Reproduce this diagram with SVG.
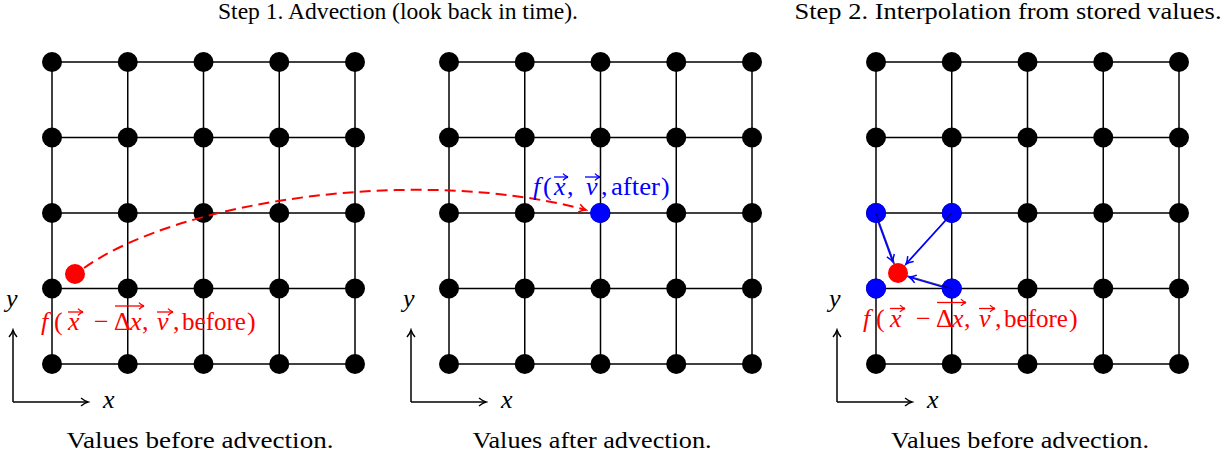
<svg xmlns="http://www.w3.org/2000/svg" width="1232" height="459" viewBox="0 0 1232 459">
<style>
.grid line{stroke:#000;stroke-width:1.5}
.node{fill:#000}
.ax{stroke:#000;stroke-width:1.5;fill:none}
.vec{stroke-width:1.3;fill:none}
</style>
<defs>
<marker id="ahk" markerWidth="12" markerHeight="12" refX="1" refY="0" viewBox="-8 -6 10 12" orient="auto" markerUnits="userSpaceOnUse">
<path d="M-6,-4 Q-2,-0.8 1,0 Q-2,0.8 -6,4" fill="none" stroke="#000" stroke-width="1.4"/>
</marker>
<marker id="ahr" markerWidth="12" markerHeight="12" refX="1" refY="0" viewBox="-8 -6 10 12" orient="auto" markerUnits="userSpaceOnUse">
<path d="M-6,-4 Q-2,-0.8 1,0 Q-2,0.8 -6,4" fill="none" stroke="#f00" stroke-width="1.6"/>
</marker>
<marker id="ahb" markerWidth="12" markerHeight="12" refX="1" refY="0" viewBox="-8 -6 10 12" orient="auto" markerUnits="userSpaceOnUse">
<path d="M-6,-4 Q-2,-0.8 1,0 Q-2,0.8 -6,4" fill="none" stroke="#00f" stroke-width="1.5"/>
</marker>
<marker id="vr" markerWidth="9" markerHeight="9" refX="0.5" refY="0" viewBox="-5 -4 6 8" orient="auto" markerUnits="userSpaceOnUse">
<path d="M-4,-3 Q-1.5,-0.5 0.5,0 Q-1.5,0.5 -4,3" fill="none" stroke="#f00" stroke-width="1.2"/>
</marker>
<marker id="vb" markerWidth="9" markerHeight="9" refX="0.5" refY="0" viewBox="-5 -4 6 8" orient="auto" markerUnits="userSpaceOnUse">
<path d="M-4,-3 Q-1.5,-0.5 0.5,0 Q-1.5,0.5 -4,3" fill="none" stroke="#00f" stroke-width="1.2"/>
</marker>
<g id="gridlines" class="grid">
<line x1="0" y1="0" x2="303" y2="0"/>
<line x1="0" y1="75.5" x2="303" y2="75.5"/>
<line x1="0" y1="151" x2="303" y2="151"/>
<line x1="0" y1="226.5" x2="303" y2="226.5"/>
<line x1="0" y1="302" x2="303" y2="302"/>
<line x1="0" y1="0" x2="0" y2="302"/>
<line x1="75.75" y1="0" x2="75.75" y2="302"/>
<line x1="151.5" y1="0" x2="151.5" y2="302"/>
<line x1="227.25" y1="0" x2="227.25" y2="302"/>
<line x1="303" y1="0" x2="303" y2="302"/>
</g>
<g id="row" class="node">
<circle cx="0" cy="0" r="10"/>
<circle cx="75.75" cy="0" r="10"/>
<circle cx="151.5" cy="0" r="10"/>
<circle cx="227.25" cy="0" r="10"/>
<circle cx="303" cy="0" r="10"/>
</g>
<g id="gridfull">
<use href="#gridlines"/>
<use href="#row" y="0"/>
<use href="#row" y="75.5"/>
<use href="#row" y="151"/>
<use href="#row" y="226.5"/>
<use href="#row" y="302"/>
</g>
</defs>

<g id="titles" font-family="Liberation Serif" font-size="24" fill="#000">
<text x="398" y="19" text-anchor="middle" textLength="360" lengthAdjust="spacingAndGlyphs">Step 1. Advection (look back in time).</text>
<text x="1008" y="19" text-anchor="middle" textLength="427" lengthAdjust="spacingAndGlyphs">Step 2. Interpolation from stored values.</text>
</g>

<g id="panel1" font-family="Liberation Serif">
<use href="#gridfull" x="52" y="62"/>
<path class="ax" d="M13,402 V330" marker-end="url(#ahk)"/>
<path class="ax" d="M13,402 H88" marker-end="url(#ahk)"/>
<text font-size="26" font-style="italic" x="6" y="307">y</text>
<text font-size="26" font-style="italic" x="103" y="408">x</text>
<text font-size="24" x="200" y="448" text-anchor="middle" textLength="267" lengthAdjust="spacingAndGlyphs">Values before advection.</text>
</g>

<g id="panel2" font-family="Liberation Serif">
<use href="#gridfull" x="449" y="62"/>
<circle cx="600" cy="213" r="10" fill="#00f"/>
<path class="ax" d="M411,402 V330" marker-end="url(#ahk)"/>
<path class="ax" d="M411,402 H486" marker-end="url(#ahk)"/>
<text font-size="26" font-style="italic" x="403" y="307">y</text>
<text font-size="26" font-style="italic" x="501" y="408">x</text>
<text font-size="24" x="592" y="448" text-anchor="middle" textLength="239" lengthAdjust="spacingAndGlyphs">Values after advection.</text>
</g>

<g id="panel3" font-family="Liberation Serif">
<use href="#gridfull" x="876" y="62"/>
<circle cx="876" cy="213" r="10" fill="#00f"/>
<circle cx="951.75" cy="213" r="10" fill="#00f"/>
<circle cx="876" cy="288.5" r="10" fill="#00f"/>
<circle cx="951.75" cy="288.5" r="10" fill="#00f"/>
<path class="ax" d="M837,402 V330" marker-end="url(#ahk)"/>
<path class="ax" d="M837,402 H912" marker-end="url(#ahk)"/>
<text font-size="26" font-style="italic" x="829" y="307">y</text>
<text font-size="26" font-style="italic" x="927" y="408">x</text>
<text font-size="24" x="1020" y="448" text-anchor="middle" textLength="258" lengthAdjust="spacingAndGlyphs">Values before advection.</text>
</g>

<g id="connectors">
<path d="M84,268 C180,200 420,165 586,210" fill="none" stroke="#f00" stroke-width="2" stroke-dasharray="11,6" marker-end="url(#ahr)"/>
<g stroke="#000" stroke-width="0.7">
<line x1="876" y1="213" x2="898" y2="273"/>
<line x1="951.75" y1="213" x2="898" y2="273"/>
<line x1="951.75" y1="288.5" x2="898" y2="273"/>
</g>
<g stroke="#00f" stroke-width="1.8" fill="none">
<line x1="878" y1="221" x2="893" y2="262" marker-end="url(#ahb)"/>
<line x1="946" y1="220" x2="906" y2="264" marker-end="url(#ahb)"/>
<line x1="943" y1="287" x2="909" y2="277" marker-end="url(#ahb)"/>
</g>
</g>

<g id="reddot1"><circle cx="75" cy="274" r="10" fill="#f00"/></g>
<g id="reddot3"><circle cx="898" cy="273" r="10" fill="#f00"/></g>

<g id="label1" fill="#f00">
<text font-family="Liberation Serif" font-size="26" y="330"><tspan font-style="italic" x="41">f</tspan><tspan x="54">(</tspan><tspan font-style="italic" x="68">x</tspan><tspan x="94">−</tspan><tspan x="114">Δ</tspan><tspan font-style="italic" x="130">x</tspan><tspan x="142">,</tspan><tspan font-style="italic" x="157">v</tspan><tspan x="173">,</tspan><tspan x="182" textLength="64" lengthAdjust="spacingAndGlyphs">before</tspan><tspan x="247">)</tspan></text>
<g stroke="#f00" class="vec">
<line x1="68" y1="312" x2="83" y2="312" marker-end="url(#vr)"/>
<line x1="115" y1="306" x2="144" y2="306" marker-end="url(#vr)"/>
<line x1="157" y1="312" x2="173" y2="312" marker-end="url(#vr)"/>
</g>
</g>

<g id="label3" fill="#f00" transform="translate(822,-3.5)">
<text font-family="Liberation Serif" font-size="26" y="330"><tspan font-style="italic" x="41">f</tspan><tspan x="54">(</tspan><tspan font-style="italic" x="68">x</tspan><tspan x="94">−</tspan><tspan x="114">Δ</tspan><tspan font-style="italic" x="130">x</tspan><tspan x="142">,</tspan><tspan font-style="italic" x="157">v</tspan><tspan x="173">,</tspan><tspan x="182" textLength="64" lengthAdjust="spacingAndGlyphs">before</tspan><tspan x="247">)</tspan></text>
<g stroke="#f00" class="vec">
<line x1="68" y1="312" x2="83" y2="312" marker-end="url(#vr)"/>
<line x1="115" y1="306" x2="144" y2="306" marker-end="url(#vr)"/>
<line x1="157" y1="312" x2="173" y2="312" marker-end="url(#vr)"/>
</g>
</g>

<g id="label2" fill="#00f">
<text font-family="Liberation Serif" font-size="26" y="195"><tspan font-style="italic" x="533">f</tspan><tspan x="543">(</tspan><tspan font-style="italic" x="554">x</tspan><tspan x="567">,</tspan><tspan font-style="italic" x="586">v</tspan><tspan x="601">,</tspan><tspan x="611" textLength="49" lengthAdjust="spacingAndGlyphs">after</tspan><tspan x="661">)</tspan></text>
<g stroke="#00f" class="vec">
<line x1="554" y1="177" x2="568" y2="177" marker-end="url(#vb)"/>
<line x1="585" y1="177" x2="600" y2="177" marker-end="url(#vb)"/>
</g>
</g>
</svg>
